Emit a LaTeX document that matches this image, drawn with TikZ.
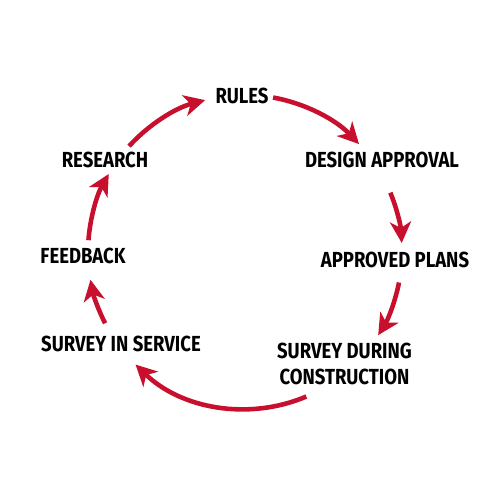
\documentclass[tikz,border=0pt]{standalone}
\usepackage{fontspec}
\setsansfont{Fira Sans}[FakeStretch=0.85]
\usetikzlibrary{arrows.meta}
\definecolor{cyclered}{RGB}{200,16,46}

\begin{document}
\begin{tikzpicture}[lbl/.style={font=\sffamily\bfseries\fontsize{12.4}{15.3}\selectfont,inner sep=0pt,align=center},
  cyc/.style={cyclered,line width=2.6pt,-{Stealth[length=12pt,width=12pt,inset=3.5pt]}}]
\useasboundingbox (0,0) rectangle (10,10);
\coordinate (c) at (4.9,4.96);
% stages of the cycle
\node[lbl] (rules) at (4.84,8.08) {RULES};
\node[lbl] (design) at (7.64,6.8) {DESIGN APPROVAL};
\node[lbl] (plans) at (7.9,4.8) {APPROVED PLANS};
\node[lbl] (during) at (6.89,2.72) {SURVEY DURING\\CONSTRUCTION};
\node[lbl] (service) at (2.42,3.12) {SURVEY IN SERVICE};
\node[lbl] (feedback) at (1.66,4.88) {FEEDBACK};
\node[lbl] (research) at (2.1,6.8) {RESEARCH};
% arcs between the stages
\foreach \n/\a/\b in {1/137.6/104.7, 2/79.7/43.4, 3/22.2/3.3, 4/-11.2/-32, 5/-67/-134.2, 6/-153/-169.8, 7/175.7/150.2}{
  \coordinate (s\n) at ([shift={(\a:3.14)}]c);
  \draw[cyc] (s\n) arc[start angle=\a,end angle=\b,radius=3.14];
}
\end{tikzpicture}
\end{document}
